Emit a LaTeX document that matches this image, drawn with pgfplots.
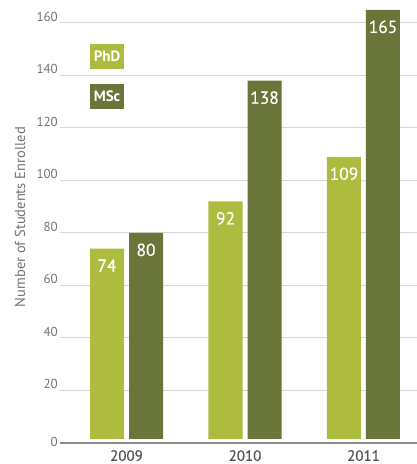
\documentclass[border=0pt]{standalone}
\usepackage{pgfplots}
\pgfplotsset{compat=1.18}
\usepackage{fontspec}
\setmainfont{PT Sans}
\newfontfamily\medfont[FakeBold=0.4]{PT Sans}
\definecolor{phd}{RGB}{173,187,62}
\definecolor{msc}{RGB}{106,117,58}
\definecolor{gridc}{RGB}{214,214,214}
\definecolor{axc}{RGB}{140,140,140}
\definecolor{tickc}{RGB}{115,115,115}
\definecolor{xlab}{RGB}{85,85,85}
\begin{document}
\begin{tikzpicture}
\useasboundingbox (-60pt,-21pt) rectangle (357pt,443pt);
\begin{axis}[
  at={(0,0)}, anchor=south west, scale only axis,
  width=357pt, height=443pt,
  xmin=-0.5612, xmax=2.4515, ymin=0, ymax=168.76,
  axis line style={draw=none},
  major tick length=0pt,
  ytick={20,40,...,160},
  extra y ticks={0},
  extra y tick style={grid style={axc, line width=1.6pt}, yticklabel style={anchor=east, yshift=0pt}},
  ymajorgrids,
  grid style={gridc, line width=1pt},
  /pgf/number format/assume math mode=true,
  yticklabel style={anchor=south east, inner sep=0pt, xshift=-2pt, yshift=1.5pt, text=tickc, font=\fontsize{13}{13}\selectfont},
  xtick={0,1,2}, xticklabels={2009,2010,2011},
  xticklabel style={text=xlab, inner sep=0pt, anchor=north, yshift=-7pt, font=\medfont\fontsize{15}{15}\selectfont},
  every axis y label/.style={at={(rel axis cs:0,0.51)}, xshift=-40pt, rotate=90, anchor=center},
  ylabel={Number of Students Enrolled},
  ylabel style={text=tickc, font=\fontsize{14.5}{14.5}\selectfont},
]
\node[fill=phd, text=white, minimum width=34pt, minimum height=25pt, inner sep=0pt, font=\bfseries\fontsize{15}{15}\selectfont] at (axis cs:-0.1646,147.2) {PhD};
\node[fill=msc, text=white, minimum width=34pt, minimum height=25pt, inner sep=0pt, font=\bfseries\fontsize{15}{15}\selectfont] at (axis cs:-0.1646,132.0) {MSc};
\end{axis}
\begin{axis}[
  at={(0,4pt)}, anchor=south west, scale only axis,
  width=357pt, height=439pt,
  xmin=-0.5612, xmax=2.4515, ymin=1.5238, ymax=168.76,
  hide axis, clip=true,
  ybar, bar width=34pt,
  nodes near coords,
  every node near coord/.append style={text=white, inner sep=0pt, yshift=-23pt, font=\medfont\fontsize{17.5}{17.5}\selectfont, anchor=base},
  /pgf/number format/assume math mode=true,
]
\addplot[fill=phd, draw=none, bar shift=-19.5pt] coordinates {(0,74) (1,92) (2,109)};
\addplot[fill=msc, draw=none, bar shift=19.5pt] coordinates {(0,80) (1,138) (2,165)};
\end{axis}
\end{tikzpicture}
\end{document}
